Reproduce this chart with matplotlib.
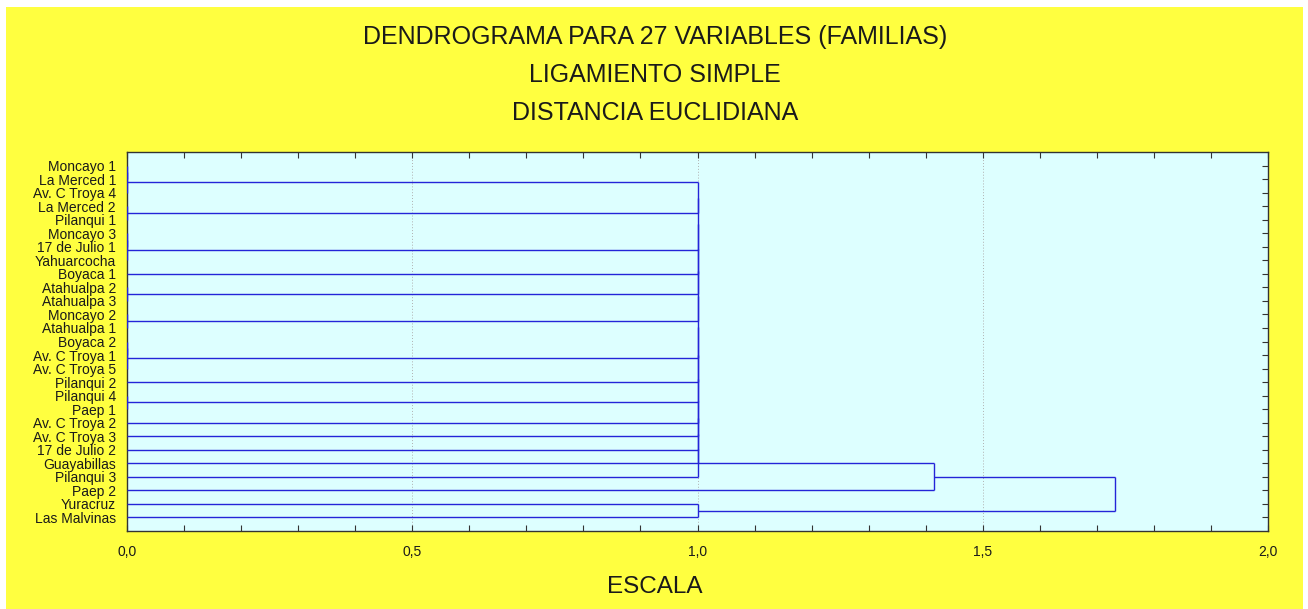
import matplotlib
matplotlib.use("Agg")
import matplotlib.pyplot as plt
from matplotlib.patches import Rectangle
from matplotlib.ticker import MultipleLocator

plt.rcParams['font.family'] = ['Liberation Sans', 'DejaVu Sans']

# ---- data ----
leaves = ["Moncayo 1", "La Merced 1", "Av. C Troya 4", "La Merced 2", "Pilanqui 1",
          "Moncayo 3", "17 de Julio 1", "Yahuarcocha", "Boyaca 1", "Atahualpa 2",
          "Atahualpa 3", "Moncayo 2", "Atahualpa 1", "Boyaca 2", "Av. C Troya 1",
          "Av. C Troya 5", "Pilanqui 2", "Pilanqui 4", "Paep 1", "Av. C Troya 2",
          "Av. C Troya 3", "17 de Julio 2", "Guayabillas", "Pilanqui 3", "Paep 2",
          "Yuracruz", "Las Malvinas"]

# merges: (left, right, distance, new cluster name)
merges = [
    ("Moncayo 1", "La Merced 1", 0.0, "a1"),
    ("a1", "Av. C Troya 4", 0.0, "A"),
    ("La Merced 2", "Pilanqui 1", 0.0, "B"),
    ("Moncayo 3", "17 de Julio 1", 0.0, "c1"),
    ("c1", "Yahuarcocha", 0.0, "C"),
    ("Atahualpa 2", "Atahualpa 3", 0.0, "D"),
    ("Moncayo 2", "Atahualpa 1", 0.0, "E"),
    ("Boyaca 2", "Av. C Troya 1", 0.0, "f1"),
    ("f1", "Av. C Troya 5", 0.0, "F"),
    ("Pilanqui 4", "Paep 1", 0.0, "G"),
    ("A", "B", 1.0, "k1"),
    ("k1", "C", 1.0, "k2"),
    ("k2", "Boyaca 1", 1.0, "k3"),
    ("k3", "D", 1.0, "k4"),
    ("k4", "E", 1.0, "k5"),
    ("k5", "F", 1.0, "k6"),
    ("k6", "Pilanqui 2", 1.0, "k7"),
    ("k7", "G", 1.0, "k8"),
    ("k8", "Av. C Troya 2", 1.0, "k9"),
    ("k9", "Av. C Troya 3", 1.0, "k10"),
    ("k10", "17 de Julio 2", 1.0, "k11"),
    ("k11", "Guayabillas", 1.0, "k12"),
    ("k12", "Pilanqui 3", 1.0, "K"),
    ("Yuracruz", "Las Malvinas", 1.0, "Y"),
    ("K", "Paep 2", 1.4142, "KP"),
    ("KP", "Y", 1.7321, "ALL"),
]

x_ticks = [0.0, 0.5, 1.0, 1.5, 2.0]
x_ticklabels = ["0,0", "0,5", "1,0", "1,5", "2,0"]
titles = ["DENDROGRAMA PARA 27 VARIABLES (FAMILIAS)", "LIGAMIENTO SIMPLE", "DISTANCIA EUCLIDIANA"]
xlabel = "ESCALA"

# ---- figure ----
W, H = 1308, 609
fig = plt.figure(figsize=(W / 100, H / 100), dpi=100, facecolor="white")
bg = Rectangle((6 / W, 0), (1303 - 6) / W, (H - 7) / H,
               transform=fig.transFigure, facecolor="#ffff40",
               edgecolor="none", zorder=-10)
fig.patches.append(bg)

ax = fig.add_axes([127 / W, 1 - 531 / H, (1268 - 127) / W, (531 - 152) / H])
ax.set_zorder(5)
ax.set_facecolor("#ddffff")

pos = {name: i for i, name in enumerate(leaves)}
hgt = {name: 0.0 for name in leaves}
lc = "#2424d8"
for l, r, d, n in merges:
    yl, yr = pos[l], pos[r]
    ax.plot([hgt[l], d], [yl, yl], color=lc, lw=1.0, solid_capstyle="butt", zorder=3)
    ax.plot([hgt[r], d], [yr, yr], color=lc, lw=1.0, solid_capstyle="butt", zorder=3)
    ax.plot([d, d], [yl, yr], color=lc, lw=1.0, solid_capstyle="butt", zorder=3)
    pos[n] = (yl + yr) / 2
    hgt[n] = d

ax.set_xlim(0, 2.0)
ax.set_ylim(len(leaves), -1)

ax.set_xticks(x_ticks)
ax.set_xticklabels(x_ticklabels, fontsize=10, color="#1a1a1a")
ax.xaxis.set_minor_locator(MultipleLocator(0.1))
ax.tick_params(axis="x", which="both", direction="in", top=True, bottom=True,
               length=4, width=0.8, color="#333333", pad=10)
ax.set_yticks(range(len(leaves)))
ax.set_yticklabels(leaves, fontsize=10, color="#1a1a1a")
ax.tick_params(axis="y", which="both", direction="in", left=False, right=True,
               length=4, width=0.8, color="#333333", pad=8)
for s in ax.spines.values():
    s.set_color("#333333")
    s.set_linewidth(1.0)

for gx in [0.5, 1.0, 1.5]:
    ax.axvline(gx, color="#b0b0b0", lw=0.7, ls=(0, (1, 2)), zorder=1)

for i, t in enumerate(titles):
    fig.text(655 / W, 1 - (37 + 38 * i) / H, t, ha="center", va="center",
             fontsize=18, color="#1a1a1a")
fig.text(655 / W, 1 - 587 / H, xlabel, ha="center", va="center",
         fontsize=17.5, color="#1a1a1a")

fig.savefig("out.png", dpi=100, facecolor=fig.get_facecolor())
